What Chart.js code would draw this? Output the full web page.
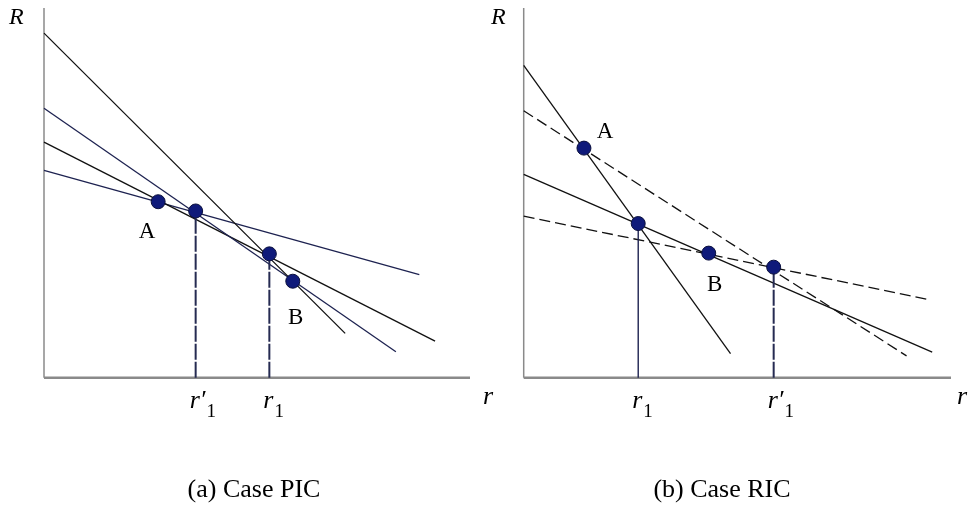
<!DOCTYPE html>
<html>
<head>
<meta charset="utf-8">
<script src="https://cdn.jsdelivr.net/npm/chart.js@4/dist/chart.umd.min.js"></script>
<style>
  body { margin: 0; background: #fff; }
  #wrap { position: relative; width: 970px; height: 509px; overflow: hidden; }
  canvas { position: absolute; top: 0; }
  #pic { left: 0; }
  #ric { left: 488px; }
</style>
</head>
<body>
<div id="wrap">
  <canvas id="pic" width="495" height="509"></canvas>
  <canvas id="ric" width="482" height="509"></canvas>
</div>
<script>
// (a) Case PIC  -- lines given as [x, y] end points in axis units (0..10)
const picSteepLine  = [[0, 9.32], [7.07, 1.20]];
const picUpperLine  = [[0, 7.29], [8.26, 0.70]];
const picMiddleLine = [[0, 6.37], [9.18, 0.99]];
const picFlatLine   = [[0, 5.61], [8.81, 2.79]];
const picPointsX    = [2.68, 3.56, 5.29, 5.84];
const picPointsY    = [4.76, 4.51, 3.35, 2.61];
const picPointNames = ['A', '', '', 'B'];
const picTickLabels = ['', "r\u2032", 'r', ''];

// (b) Case RIC
const ricSteepLine   = [[0, 8.45], [4.84, 0.65]];
const ricDashedUpper = [[0, 7.22], [8.96, 0.59]];
const ricMiddleLine  = [[0, 5.50], [9.56, 0.69]];
const ricDashedLower = [[0, 4.37], [9.49, 2.11]];
const ricPointsX     = [1.41, 2.68, 4.33, 5.85];
const ricPointsY     = [6.21, 4.17, 3.37, 2.99];
const ricPointNames  = ['A', '', 'B', ''];
const ricTickLabels  = ['', 'r', '', "r\u2032"];

const serif = '"Liberation Serif", "Times New Roman", serif';

function toXY(pairs) {
    return pairs.map(p => ({x: p[0], y: p[1]}));
}

function lineSet(pairs, color, dash) {
    return {
        data: toXY(pairs),
        showLine: true,
        borderColor: color,
        borderWidth: 1.3,
        borderDash: dash || [],
        pointRadius: 0,
        clip: false,
        order: 2
    };
}

function dropSets(xs, ys, ticks, dashFor) {
    let sets = [];
    for (let i = 0; i < xs.length; i++) {
        if (!ticks[i]) continue;
        let dashed = dashFor(i);
        sets.push({
            data: [{x: xs[i], y: 0}, {x: xs[i], y: ys[i]}],
            showLine: true,
            borderColor: dashed ? '#262b52' : '#1d2250',
            borderWidth: dashed ? 2 : 1.4,
            borderDash: dashed ? [16, 2] : [],
            pointRadius: 0,
            clip: false,
            order: 1
        });
    }
    return sets;
}

function dotSet(xs, ys) {
    return {
        data: xs.map((x, i) => ({x: x, y: ys[i]})),
        showLine: false,
        pointRadius: 7,
        pointBackgroundColor: '#0f1a7a',
        pointBorderColor: '#0a0f3c',
        pointBorderWidth: 1,
        clip: false,
        order: 0
    };
}

// axes, letters and captions drawn on top of the plot area
function decorPlugin(opts) {
    return {
        id: 'decor',
        beforeDatasetsDraw(chart) {
            let c = chart.ctx, a = chart.chartArea;
            c.save();
            c.strokeStyle = '#8a8a8a';
            c.lineWidth = 1.5;
            c.beginPath();
            c.moveTo(a.left, a.top);
            c.lineTo(a.left, a.bottom);
            c.stroke();
            c.lineWidth = 2.5;
            c.beginPath();
            c.moveTo(a.left, a.bottom);
            c.lineTo(a.right, a.bottom);
            c.stroke();
            c.restore();
        },
        afterDraw(chart) {
            let c = chart.ctx, a = chart.chartArea;
            let sx = chart.scales.x, sy = chart.scales.y;
            c.save();
            c.fillStyle = '#000';
            c.textBaseline = 'alphabetic';

            // axis names
            c.font = 'italic 24px ' + serif;
            c.textAlign = 'left';
            c.fillText('R', opts.rX, 24);
            c.font = 'italic 26px ' + serif;
            c.fillText('r', a.right + opts.rOff, a.bottom + 26);

            // point names
            c.font = '23px ' + serif;
            c.textAlign = 'center';
            for (let i = 0; i < opts.names.length; i++) {
                if (!opts.names[i]) continue;
                let px = sx.getPixelForValue(opts.xs[i]) + opts.nameOff[i][0];
                let py = sy.getPixelForValue(opts.ys[i]) + opts.nameOff[i][1];
                c.fillText(opts.names[i], px, py + 8);
            }

            // tick labels r1 / r'1
            c.textAlign = 'left';
            for (let i = 0; i < opts.ticks.length; i++) {
                if (!opts.ticks[i]) continue;
                let px = sx.getPixelForValue(opts.xs[i]) - 6;
                c.font = 'italic 26px ' + serif;
                c.fillText(opts.ticks[i], px, a.bottom + 30);
                let w = c.measureText(opts.ticks[i]).width;
                c.font = '19px ' + serif;
                c.fillText('1', px + w + 1, a.bottom + 39);
            }

            // caption
            c.font = '26px ' + serif;
            c.textAlign = 'center';
            c.fillText(opts.caption, opts.capX, 497);
            c.restore();
        }
    };
}

function makeChart(id, datasets, padding, opts) {
    let ctx = document.getElementById(id).getContext('2d');
    return new Chart(ctx, {
        type: 'scatter',
        data: { datasets: datasets },
        options: {
            responsive: false,
            animation: false,
            layout: { padding: padding },
            plugins: { legend: { display: false }, tooltip: { enabled: false } },
            scales: {
                x: { type: 'linear', min: 0, max: 10, display: false },
                y: { type: 'linear', min: 0, max: 10, display: false }
            }
        },
        plugins: [decorPlugin(opts)]
    });
}

window.pic_chart = makeChart('pic', [
    dotSet(picPointsX, picPointsY),
    ...dropSets(picPointsX, picPointsY, picTickLabels, () => true),
    lineSet(picSteepLine, '#111'),
    lineSet(picUpperLine, '#1d2250'),
    lineSet(picMiddleLine, '#111'),
    lineSet(picFlatLine, '#1d2250')
], {left: 44, right: 25, top: 4, bottom: 131.3}, {
    xs: picPointsX, ys: picPointsY, names: picPointNames, ticks: picTickLabels,
    nameOff: [[-11, 28], [0, 0], [0, 0], [3, 35]],
    rX: 9, rOff: 13, caption: '(a) Case PIC', capX: 254
});

window.ric_chart = makeChart('ric', [
    dotSet(ricPointsX, ricPointsY),
    ...dropSets(ricPointsX, ricPointsY, ricTickLabels, i => i === 3),
    lineSet(ricSteepLine, '#111'),
    lineSet(ricDashedUpper, '#111', [11, 5]),
    lineSet(ricMiddleLine, '#111'),
    lineSet(ricDashedLower, '#111', [11, 5])
], {left: 35.7, right: 19, top: 4, bottom: 131.3}, {
    xs: ricPointsX, ys: ricPointsY, names: ricPointNames, ticks: ricTickLabels,
    nameOff: [[21, -18], [0, 0], [6, 30], [0, 0]],
    rX: 3, rOff: 6, caption: '(b) Case RIC', capX: 234
});
</script>
</body>
</html>
